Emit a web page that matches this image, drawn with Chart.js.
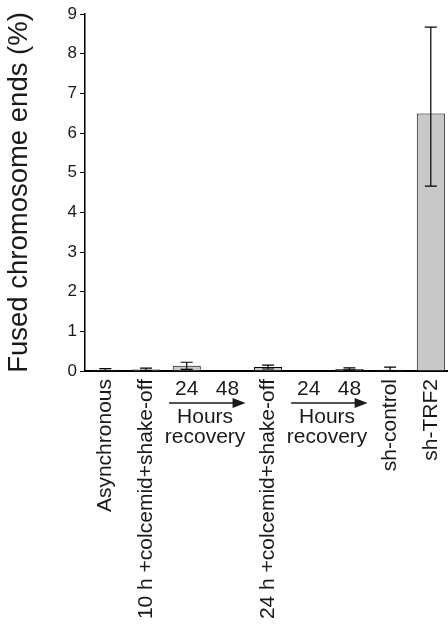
<!DOCTYPE html>
<html>
<head>
<meta charset="utf-8">
<script src="https://cdn.jsdelivr.net/npm/chart.js@4/dist/chart.umd.min.js"></script>
<style>
  html, body { margin: 0; padding: 0; background: #fff; overflow: hidden; }
  #wrap { width: 464px; height: 627px; position: relative; }
</style>
</head>
<body>
<div id="wrap"><canvas id="c"></canvas></div>
<script>
// ---- data ----
const categories = ['Asynchronous', '10 h +colcemid+shake-off', '24', '48', '24 h +colcemid+shake-off', '24', '48', 'sh-control', 'sh-TRF2'];
const recoveryIdx = [2, 3, 5, 6];
const recoveryGroups = [[2, 3], [5, 6]];
const fusedPct = [0.03, 0.04, 0.13, null, 0.10, null, 0.05, 0.03, 6.49];
const errUpper = [0.06, 0.07, 0.22, null, 0.15, null, 0.08, 0.10, 8.67];
const errLower = [0.00, 0.01, 0.04, null, 0.05, null, 0.02, 0.00, 4.66];
const yTicks = [0, 1, 2, 3, 4, 5, 6, 7, 8, 9];
const yTitle = 'Fused chromosome ends (%)';

const FONT = "'Liberation Sans', Arial, Helvetica, sans-serif";
const TXT = '#1a1a1a';

const errorBars = {
  id: 'errorBars',
  afterDatasetsDraw(chart) {
    const ctx = chart.ctx;
    const meta = chart.getDatasetMeta(0);
    const y = chart.scales.y;
    ctx.save();
    ctx.strokeStyle = '#000';
    ctx.lineWidth = 1.2;
    meta.data.forEach((bar, i) => {
      if (fusedPct[i] == null) return;
      const x = bar.x;
      const yh = y.getPixelForValue(errUpper[i]);
      const yl = y.getPixelForValue(errLower[i]);
      const cw = 6;
      ctx.beginPath();
      ctx.moveTo(x, yh); ctx.lineTo(x, yl);
      ctx.moveTo(x - cw, yh); ctx.lineTo(x + cw, yh);
      ctx.moveTo(x - cw, yl); ctx.lineTo(x + cw, yl);
      ctx.stroke();
    });
    ctx.restore();
  }
};

const recoveryLabels = {
  id: 'recoveryLabels',
  afterDraw(chart) {
    const ctx = chart.ctx;
    const xs = chart.scales.x;
    const base = chart.chartArea.bottom;
    ctx.save();
    ctx.fillStyle = TXT;
    ctx.strokeStyle = TXT;
    ctx.font = '21px ' + FONT;
    ctx.textAlign = 'center';
    ctx.textBaseline = 'alphabetic';
    recoveryGroups.forEach(g => {
      const x1 = xs.getPixelForValue(g[0]);
      const x2 = xs.getPixelForValue(g[1]);
      ctx.fillText(categories[g[0]], x1, base + 24);
      ctx.fillText(categories[g[1]], x2, base + 24);
      const mid = (x1 + x2) / 2;
      const ay = base + 32;
      const xa = mid - 38, xb = mid + 38.5;
      ctx.lineWidth = 1.5;
      ctx.beginPath();
      ctx.moveTo(xa, ay); ctx.lineTo(xb - 10, ay);
      ctx.stroke();
      ctx.beginPath();
      ctx.moveTo(xb, ay); ctx.lineTo(xb - 13, ay - 5); ctx.lineTo(xb - 13, ay + 5);
      ctx.closePath(); ctx.fill();
      ctx.fillText('Hours', mid - 2, base + 52);
      ctx.fillText('recovery', mid - 2, base + 72);
    });
    ctx.restore();
  }
};

new Chart(document.getElementById('c'), {
  type: 'bar',
  data: {
    labels: categories,
    datasets: [{
      data: fusedPct,
      backgroundColor: '#c8c8c8',
      borderColor: '#000',
      borderWidth: 1,
      categoryPercentage: 1,
      barPercentage: 0.69
    }]
  },
  options: {
    responsive: true,
    maintainAspectRatio: false,
    animation: false,
    layout: { padding: { top: 14, right: 0, left: 0, bottom: 0 } },
    plugins: { legend: { display: false }, tooltip: { enabled: false } },
    scales: {
      x: {
        grid: { display: false, drawTicks: false },
        border: { display: true, color: '#000', width: 2 },
        ticks: {
          autoSkip: false,
          minRotation: 90,
          maxRotation: 90,
          padding: 8,
          color: TXT,
          font: { family: FONT, size: 21 },
          callback: function(v, i) { return recoveryIdx.includes(i) ? '' : categories[i]; }
        },
        afterFit(scale) { scale.height = 627 - 14 - 357; }
      },
      y: {
        min: 0, max: 9,
        afterBuildTicks(scale) { scale.ticks = yTicks.map(v => ({ value: v })); },
        grid: { display: true, drawOnChartArea: false, drawTicks: true, tickLength: 5, color: '#000', lineWidth: 1 },
        border: { display: true, color: '#000', width: 1.5 },
        ticks: { padding: 3, color: TXT, font: { family: FONT, size: 17 } },
        title: { display: true, text: yTitle, color: TXT, font: { family: FONT, size: 27.5 }, padding: { top: 3, bottom: 0 } },
        afterFit(scale) { scale.width = 85; }
      }
    }
  },
  plugins: [errorBars, recoveryLabels]
});
</script>
</body>
</html>
